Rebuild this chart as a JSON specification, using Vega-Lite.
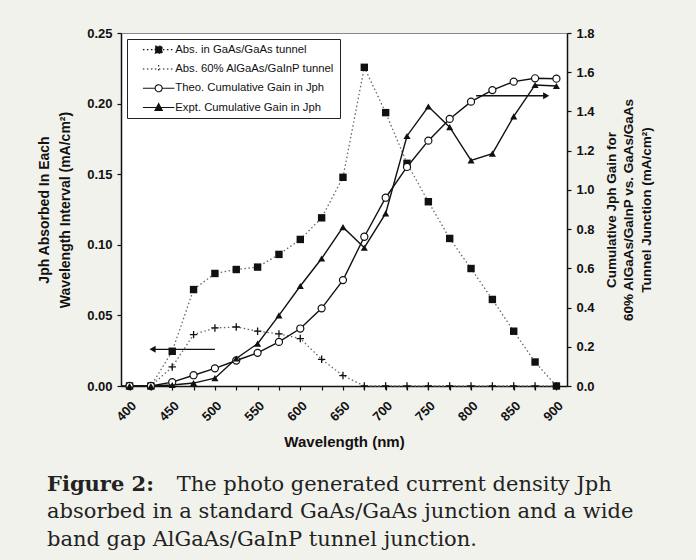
{
  "$schema": "https://vega.github.io/schema/vega-lite/v6.json",
  "autosize": {"type": "none"},
  "width": 446,
  "height": 353,
  "padding": {"left": 121, "top": 33, "right": 129, "bottom": 174},
  "background": "#f2f2ed",
  "title": {
    "text": "Figure 2:",
    "subtitle": [
      "\u2800\u2800\u2800\u2800\u2800\u2800\u2800\u2800\u00a0The photo generated current density Jph",
      "absorbed in a standard GaAs/GaAs junction and a wide",
      "band gap AlGaAs/GaInP tunnel junction."
    ],
    "orient": "bottom",
    "anchor": "start",
    "frame": "group",
    "dx": -74,
    "offset": 24,
    "font": "DejaVu Serif",
    "fontSize": 21,
    "fontWeight": "bold",
    "color": "#222222",
    "subtitleFont": "DejaVu Serif",
    "subtitleFontSize": 21,
    "subtitleFontWeight": "normal",
    "subtitleColor": "#222222",
    "subtitleLineHeight": 27.5,
    "subtitlePadding": -21
  },
  "datasets": {
    "main": [
      {"wl": 400, "series": "Abs. in GaAs/GaAs tunnel", "value": 0},
      {"wl": 425, "series": "Abs. in GaAs/GaAs tunnel", "value": 0},
      {"wl": 450, "series": "Abs. in GaAs/GaAs tunnel", "value": 0.0246},
      {"wl": 475, "series": "Abs. in GaAs/GaAs tunnel", "value": 0.0683},
      {"wl": 500, "series": "Abs. in GaAs/GaAs tunnel", "value": 0.0797},
      {"wl": 525, "series": "Abs. in GaAs/GaAs tunnel", "value": 0.0825},
      {"wl": 550, "series": "Abs. in GaAs/GaAs tunnel", "value": 0.0842},
      {"wl": 575, "series": "Abs. in GaAs/GaAs tunnel", "value": 0.0932},
      {"wl": 600, "series": "Abs. in GaAs/GaAs tunnel", "value": 0.1038},
      {"wl": 625, "series": "Abs. in GaAs/GaAs tunnel", "value": 0.1191},
      {"wl": 650, "series": "Abs. in GaAs/GaAs tunnel", "value": 0.1478},
      {"wl": 675, "series": "Abs. in GaAs/GaAs tunnel", "value": 0.2257},
      {"wl": 700, "series": "Abs. in GaAs/GaAs tunnel", "value": 0.1936},
      {"wl": 725, "series": "Abs. in GaAs/GaAs tunnel", "value": 0.1577},
      {"wl": 750, "series": "Abs. in GaAs/GaAs tunnel", "value": 0.1305},
      {"wl": 775, "series": "Abs. in GaAs/GaAs tunnel", "value": 0.1045},
      {"wl": 800, "series": "Abs. in GaAs/GaAs tunnel", "value": 0.0832},
      {"wl": 825, "series": "Abs. in GaAs/GaAs tunnel", "value": 0.0613},
      {"wl": 850, "series": "Abs. in GaAs/GaAs tunnel", "value": 0.0388},
      {"wl": 875, "series": "Abs. in GaAs/GaAs tunnel", "value": 0.017},
      {"wl": 900, "series": "Abs. in GaAs/GaAs tunnel", "value": 0},
      {"wl": 400, "series": "Abs. 60% AlGaAs/GaInP tunnel", "value": 0},
      {"wl": 425, "series": "Abs. 60% AlGaAs/GaInP tunnel", "value": 0},
      {"wl": 450, "series": "Abs. 60% AlGaAs/GaInP tunnel", "value": 0.0135},
      {"wl": 475, "series": "Abs. 60% AlGaAs/GaInP tunnel", "value": 0.0364},
      {"wl": 500, "series": "Abs. 60% AlGaAs/GaInP tunnel", "value": 0.0411},
      {"wl": 525, "series": "Abs. 60% AlGaAs/GaInP tunnel", "value": 0.0418},
      {"wl": 550, "series": "Abs. 60% AlGaAs/GaInP tunnel", "value": 0.0388},
      {"wl": 575, "series": "Abs. 60% AlGaAs/GaInP tunnel", "value": 0.0369},
      {"wl": 600, "series": "Abs. 60% AlGaAs/GaInP tunnel", "value": 0.0336},
      {"wl": 625, "series": "Abs. 60% AlGaAs/GaInP tunnel", "value": 0.0189},
      {"wl": 650, "series": "Abs. 60% AlGaAs/GaInP tunnel", "value": 0.0074},
      {"wl": 675, "series": "Abs. 60% AlGaAs/GaInP tunnel", "value": 0},
      {"wl": 700, "series": "Abs. 60% AlGaAs/GaInP tunnel", "value": 0},
      {"wl": 725, "series": "Abs. 60% AlGaAs/GaInP tunnel", "value": 0},
      {"wl": 750, "series": "Abs. 60% AlGaAs/GaInP tunnel", "value": 0},
      {"wl": 775, "series": "Abs. 60% AlGaAs/GaInP tunnel", "value": 0},
      {"wl": 800, "series": "Abs. 60% AlGaAs/GaInP tunnel", "value": 0},
      {"wl": 825, "series": "Abs. 60% AlGaAs/GaInP tunnel", "value": 0},
      {"wl": 850, "series": "Abs. 60% AlGaAs/GaInP tunnel", "value": 0},
      {"wl": 875, "series": "Abs. 60% AlGaAs/GaInP tunnel", "value": 0},
      {"wl": 900, "series": "Abs. 60% AlGaAs/GaInP tunnel", "value": 0},
      {"wl": 400, "series": "Theo. Cumulative Gain in Jph", "value": 0},
      {"wl": 425, "series": "Theo. Cumulative Gain in Jph", "value": 0},
      {"wl": 450, "series": "Theo. Cumulative Gain in Jph", "value": 0.02},
      {"wl": 475, "series": "Theo. Cumulative Gain in Jph", "value": 0.055},
      {"wl": 500, "series": "Theo. Cumulative Gain in Jph", "value": 0.09},
      {"wl": 525, "series": "Theo. Cumulative Gain in Jph", "value": 0.13},
      {"wl": 550, "series": "Theo. Cumulative Gain in Jph", "value": 0.169},
      {"wl": 575, "series": "Theo. Cumulative Gain in Jph", "value": 0.225},
      {"wl": 600, "series": "Theo. Cumulative Gain in Jph", "value": 0.293},
      {"wl": 625, "series": "Theo. Cumulative Gain in Jph", "value": 0.396},
      {"wl": 650, "series": "Theo. Cumulative Gain in Jph", "value": 0.54},
      {"wl": 675, "series": "Theo. Cumulative Gain in Jph", "value": 0.761},
      {"wl": 700, "series": "Theo. Cumulative Gain in Jph", "value": 0.96},
      {"wl": 725, "series": "Theo. Cumulative Gain in Jph", "value": 1.117},
      {"wl": 750, "series": "Theo. Cumulative Gain in Jph", "value": 1.251},
      {"wl": 775, "series": "Theo. Cumulative Gain in Jph", "value": 1.362},
      {"wl": 800, "series": "Theo. Cumulative Gain in Jph", "value": 1.45},
      {"wl": 825, "series": "Theo. Cumulative Gain in Jph", "value": 1.509},
      {"wl": 850, "series": "Theo. Cumulative Gain in Jph", "value": 1.552},
      {"wl": 875, "series": "Theo. Cumulative Gain in Jph", "value": 1.569},
      {"wl": 900, "series": "Theo. Cumulative Gain in Jph", "value": 1.567},
      {"wl": 400, "series": "Expt. Cumulative Gain in Jph", "value": 0},
      {"wl": 425, "series": "Expt. Cumulative Gain in Jph", "value": 0},
      {"wl": 450, "series": "Expt. Cumulative Gain in Jph", "value": 0.005},
      {"wl": 475, "series": "Expt. Cumulative Gain in Jph", "value": 0.015},
      {"wl": 500, "series": "Expt. Cumulative Gain in Jph", "value": 0.04},
      {"wl": 525, "series": "Expt. Cumulative Gain in Jph", "value": 0.14},
      {"wl": 550, "series": "Expt. Cumulative Gain in Jph", "value": 0.216},
      {"wl": 575, "series": "Expt. Cumulative Gain in Jph", "value": 0.36},
      {"wl": 600, "series": "Expt. Cumulative Gain in Jph", "value": 0.51},
      {"wl": 625, "series": "Expt. Cumulative Gain in Jph", "value": 0.65},
      {"wl": 650, "series": "Expt. Cumulative Gain in Jph", "value": 0.81},
      {"wl": 675, "series": "Expt. Cumulative Gain in Jph", "value": 0.705},
      {"wl": 700, "series": "Expt. Cumulative Gain in Jph", "value": 0.88},
      {"wl": 725, "series": "Expt. Cumulative Gain in Jph", "value": 1.275},
      {"wl": 750, "series": "Expt. Cumulative Gain in Jph", "value": 1.425},
      {"wl": 775, "series": "Expt. Cumulative Gain in Jph", "value": 1.32},
      {"wl": 800, "series": "Expt. Cumulative Gain in Jph", "value": 1.15},
      {"wl": 825, "series": "Expt. Cumulative Gain in Jph", "value": 1.185},
      {"wl": 850, "series": "Expt. Cumulative Gain in Jph", "value": 1.375},
      {"wl": 875, "series": "Expt. Cumulative Gain in Jph", "value": 1.535},
      {"wl": 900, "series": "Expt. Cumulative Gain in Jph", "value": 1.53}
    ],
    "arrows": [
      {"side": "left", "wl": 427, "wl2": 500, "value": 0.026},
      {"side": "right", "wl": 888, "wl2": 806, "value": 1.48}
    ]
  },
  "data": {"name": "main"},
  "encoding": {
    "x": {
      "field": "wl",
      "type": "quantitative",
      "scale": {"domain": [390, 912.4], "nice": false, "zero": false},
      "axis": {
        "title": "Wavelength  (nm)",
        "values": [400, 425, 450, 475, 500, 525, 550, 575, 600, 625, 650, 675, 700, 725, 750, 775, 800, 825, 850, 875, 900],
        "labelExpr": "datum.value % 50 === 0 ? datum.label : ''",
        "labelAngle": -45,
        "labelPadding": 9,
        "titleFontSize": 15,
        "titlePadding": 11
      }
    }
  },
  "layer": [
    {
      "encoding": {
        "y": {
          "field": "value",
          "type": "quantitative",
          "scale": {"domain": [0, 0.25], "nice": false},
          "axis": {
            "orient": "left",
            "values": [0, 0.05, 0.1, 0.15, 0.2, 0.25],
            "format": ".2f",
            "labelPadding": 5,
            "title": ["Jph Absorbed In Each", "Wavelength Interval  (mA/cm\u00b2)"],
            "titleFontSize": 14,
            "titleLineHeight": 21,
            "titlePadding": 14
          }
        }
      },
      "layer": [
        {
          "transform": [{"filter": "datum.wl === 400"}],
          "mark": {"type": "point", "filled": false, "strokeWidth": 1.1, "opacity": 1, "clip": true},
          "encoding": {
            "shape": {
              "field": "series",
              "type": "nominal",
              "scale": {
                "domain": ["Abs. in GaAs/GaAs tunnel", "Abs. 60% AlGaAs/GaInP tunnel", "Theo. Cumulative Gain in Jph", "Expt. Cumulative Gain in Jph"],
                "range": [
                  "M-4.5,0H4.5M-1,-1H1V1H-1Z",
                  "M-4.5,0H4.5M0,-1.1V1.1",
                  "M-4.5,0H-1M1,0H4.5M-1,0A1,1 0 1,0 1,0A1,1 0 1,0 -1,0Z",
                  "M-4.5,0H4.5M0,-1.15L1.05,0.85H-1.05Z"
                ]
              },
              "legend": {"title": null}
            },
            "fill": {
              "field": "series",
              "type": "nominal",
              "scale": {
                "domain": ["Abs. in GaAs/GaAs tunnel", "Abs. 60% AlGaAs/GaInP tunnel", "Theo. Cumulative Gain in Jph", "Expt. Cumulative Gain in Jph"],
                "range": ["#111111", "transparent", "white", "#111111"]
              },
              "legend": {"title": null}
            },
            "stroke": {
              "field": "series",
              "type": "nominal",
              "scale": {
                "domain": ["Abs. in GaAs/GaAs tunnel", "Abs. 60% AlGaAs/GaInP tunnel", "Theo. Cumulative Gain in Jph", "Expt. Cumulative Gain in Jph"],
                "range": ["#111111", "#111111", "#111111", "#111111"]
              },
              "legend": {"title": null}
            },
            "strokeDash": {
              "field": "series",
              "type": "nominal",
              "scale": {
                "domain": ["Abs. in GaAs/GaAs tunnel", "Abs. 60% AlGaAs/GaInP tunnel", "Theo. Cumulative Gain in Jph", "Expt. Cumulative Gain in Jph"],
                "range": [[1.5, 2.5], [1.5, 2.5], [1, 0], [1, 0]]
              },
              "legend": {"title": null}
            }
          }
        },
        {
          "transform": [{"filter": "datum.series === 'Abs. in GaAs/GaAs tunnel' || datum.series === 'Abs. 60% AlGaAs/GaInP tunnel'"}],
          "mark": {"type": "line", "color": "#666666", "strokeWidth": 1.3, "strokeDash": [1.5, 2.5]},
          "encoding": {"detail": {"field": "series"}}
        },
        {
          "transform": [{"filter": "datum.series === 'Abs. in GaAs/GaAs tunnel'"}],
          "mark": {"type": "point", "shape": "square", "filled": true, "color": "#111111", "size": 55, "opacity": 1}
        },
        {
          "transform": [{"filter": "datum.series === 'Abs. 60% AlGaAs/GaInP tunnel'"}],
          "mark": {"type": "point", "shape": "M-1,0H1M0,-1V1", "filled": false, "color": "#111111", "strokeWidth": 1.3, "size": 55, "opacity": 1}
        },
        {
          "data": {"name": "arrows"},
          "transform": [{"filter": "datum.side === 'left'"}],
          "mark": {"type": "rule", "color": "#111111", "strokeWidth": 1.3},
          "encoding": {"x2": {"field": "wl2"}}
        },
        {
          "data": {"name": "arrows"},
          "transform": [{"filter": "datum.side === 'left'"}],
          "mark": {"type": "point", "shape": "triangle-left", "filled": true, "color": "#111111", "size": 50, "opacity": 1}
        }
      ]
    },
    {
      "encoding": {
        "y": {
          "field": "value",
          "type": "quantitative",
          "scale": {"domain": [0, 1.8], "nice": false},
          "axis": {
            "orient": "right",
            "values": [0, 0.2, 0.4, 0.6, 0.8, 1.0, 1.2, 1.4, 1.6, 1.8],
            "format": ".1f",
            "labelPadding": 5,
            "title": ["Cumulative Jph Gain for", "60% AlGaAs/GaInP vs. GaAs/GaAs", "Tunnel Junction  (mA/cm\u00b2)"],
            "titleAngle": 270,
            "titleBaseline": "top",
            "titleFontSize": 13.5,
            "titleLineHeight": 17.5,
            "titlePadding": -25
          }
        }
      },
      "layer": [
        {
          "transform": [{"filter": "datum.series === 'Theo. Cumulative Gain in Jph' || datum.series === 'Expt. Cumulative Gain in Jph'"}],
          "mark": {"type": "line", "color": "#111111", "strokeWidth": 1.4},
          "encoding": {"detail": {"field": "series"}}
        },
        {
          "transform": [{"filter": "datum.series === 'Theo. Cumulative Gain in Jph'"}],
          "mark": {"type": "point", "shape": "circle", "filled": false, "fill": "white", "stroke": "#111111", "strokeWidth": 1.2, "size": 50, "opacity": 1}
        },
        {
          "transform": [{"filter": "datum.series === 'Expt. Cumulative Gain in Jph'"}],
          "mark": {"type": "point", "shape": "triangle-up", "filled": true, "color": "#111111", "size": 50, "opacity": 1}
        },
        {
          "data": {"name": "arrows"},
          "transform": [{"filter": "datum.side === 'right'"}],
          "mark": {"type": "rule", "color": "#111111", "strokeWidth": 1.3},
          "encoding": {"x2": {"field": "wl2"}}
        },
        {
          "data": {"name": "arrows"},
          "transform": [{"filter": "datum.side === 'right'"}],
          "mark": {"type": "point", "shape": "triangle-right", "filled": true, "color": "#111111", "size": 50, "opacity": 1}
        }
      ]
    }
  ],
  "resolve": {"scale": {"y": "independent"}},
  "config": {
    "font": "Liberation Sans",
    "view": {"fill": "white", "stroke": "#888888", "strokeWidth": 1},
    "axis": {
      "grid": false,
      "domainColor": "#111111",
      "domainWidth": 1.5,
      "tickColor": "#111111",
      "tickWidth": 1.2,
      "tickSize": 4,
      "labelFont": "Liberation Sans",
      "labelFontSize": 13,
      "labelFontWeight": "bold",
      "labelColor": "#111111",
      "titleFont": "Liberation Sans",
      "titleFontWeight": "bold",
      "titleColor": "#111111"
    },
    "legend": {
      "orient": "top-left",
      "offset": 6,
      "padding": 5,
      "strokeColor": "#222222",
      "fillColor": "white",
      "labelFont": "Liberation Sans",
      "labelFontSize": 11.3,
      "labelColor": "#111111",
      "symbolSize": 49,
      "symbolStrokeWidth": 1.1,
      "symbolOpacity": 1,
      "symbolOffset": 21,
      "labelOffset": 11,
      "rowPadding": 6.3
    }
  }
}
